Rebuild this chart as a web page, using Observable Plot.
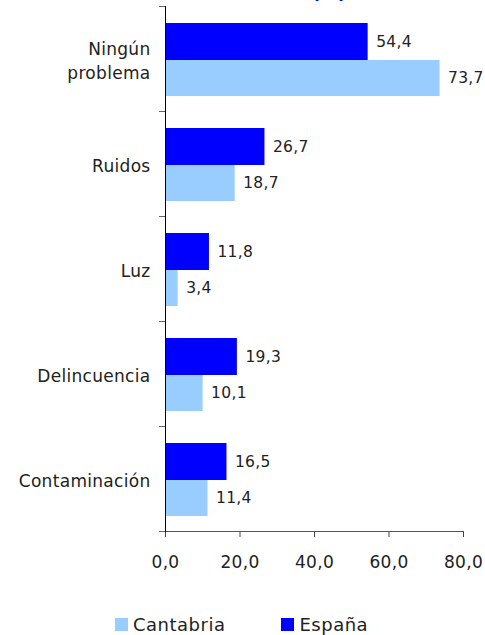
<!DOCTYPE html>
<html>
<head>
<meta charset="utf-8">
<script src="https://cdn.jsdelivr.net/npm/d3@7"></script>
<script src="https://cdn.jsdelivr.net/npm/@observablehq/plot@0.6"></script>
<style>
  body { margin: 0; background: #fff; font-family: "DejaVu Sans", sans-serif; color: #222; }
  #wrap { position: relative; width: 485px; height: 635px; overflow: hidden; }
  #title { position: absolute; top: -16px; left: 0; width: 658px; text-align: center; font-weight: bold; font-size: 18px; line-height: 18px; color: #0000ff; }
  #legend { position: absolute; top: 614px; left: 115px; display: flex; align-items: center; font-size: 18px; letter-spacing: 0.5px; color: #222; }
  .sw { width: 13px; height: 13px; margin-right: 5px; }
  .item { display: flex; align-items: center; }
  svg text { letter-spacing: 0.3px; }
  svg text.val { letter-spacing: 0.2px; }
</style>
</head>
<body>
<div id="wrap">
  <div id="title">(%)</div>
  <div id="chart"></div>
  <div id="legend"></div>
</div>
<script>
const categories = ["Ningún problema", "Ruidos", "Luz", "Delincuencia", "Contaminación"];
const categoryLabels = ["Ningún\nproblema", "Ruidos", "Luz", "Delincuencia", "Contaminación"];
const espana = [54.4, 26.7, 11.8, 19.3, 16.5];
const cantabria = [73.7, 18.7, 3.4, 10.1, 11.4];
const seriesNames = ["Cantabria", "España"];
const seriesColors = ["#99ccff", "#0000ff"];
const xTicks = [0, 20, 40, 60, 80];

const fmt = d => d.toFixed(1).replace(".", ",");
const esp = categories.map((c, i) => ({cat: c, value: espana[i]}));
const can = categories.map((c, i) => ({cat: c, value: cantabria[i]}));
const labelOf = new Map(categories.map((c, i) => [c, categoryLabels[i]]));

const chart = Plot.plot({
  width: 485,
  height: 590,
  marginTop: 6,
  marginBottom: 59,
  marginLeft: 165,
  marginRight: 22,
  style: {fontFamily: "DejaVu Sans, sans-serif", fontSize: "17px", color: "#222", background: "#fff"},
  x: {domain: [0, 80], label: null},
  y: {domain: categories, padding: 0, label: null},
  marks: [
    Plot.barX(esp, {x: "value", y: "cat", fill: seriesColors[1], insetTop: 17, insetBottom: 51}),
    Plot.barX(can, {x: "value", y: "cat", fill: seriesColors[0], insetTop: 54, insetBottom: 15}),
    Plot.text(esp, {x: "value", y: "cat", text: d => fmt(d.value), dx: 8, dy: -17, textAnchor: "start", fill: "#222", fontSize: 15.5, className: "val"}),
    Plot.text(can, {x: "value", y: "cat", text: d => fmt(d.value), dx: 8, dy: 19.5, textAnchor: "start", fill: "#222", fontSize: 15.5, className: "val"}),
    Plot.text(categories, {y: d => d, text: d => labelOf.get(d), frameAnchor: "left", dx: -15, textAnchor: "end", lineHeight: 1.45, fill: "#222"}),
    Plot.axisY({tickFormat: null, tickSize: 6, dy: -52.5, stroke: "#666", label: null}),
    Plot.axisY({ticks: [categories[categories.length - 1]], tickFormat: null, tickSize: 6, dy: 52.5, stroke: "#666", label: null}),
    Plot.axisX({ticks: xTicks, tickFormat: fmt, tickSize: 6, tickPadding: 18, stroke: "#444", fill: "#222", label: null}),
    Plot.frame({anchor: "bottom", stroke: "#555"}),
    Plot.frame({anchor: "left", stroke: "#000"})
  ]
});
document.getElementById("chart").appendChild(chart);

const legend = document.getElementById("legend");
seriesNames.forEach((name, i) => {
  const item = document.createElement("div");
  item.className = "item";
  if (i > 0) item.style.marginLeft = "56px";
  const sw = document.createElement("div");
  sw.className = "sw";
  sw.style.background = seriesColors[i];
  const t = document.createElement("span");
  t.textContent = name;
  item.appendChild(sw);
  item.appendChild(t);
  legend.appendChild(item);
});
</script>
</body>
</html>
